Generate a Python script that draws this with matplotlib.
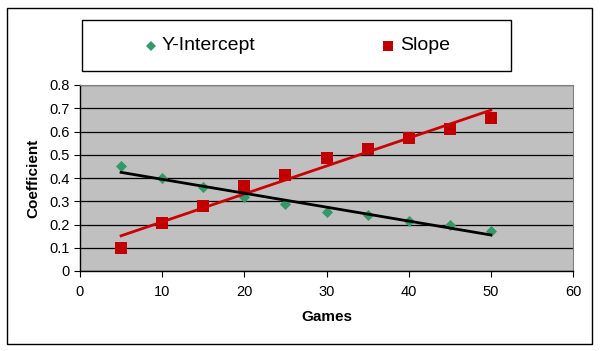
import numpy as np
import matplotlib
matplotlib.use("Agg")
import matplotlib.pyplot as plt
from matplotlib.patches import Rectangle
from matplotlib.lines import Line2D

plt.rcParams['font.family'] = ['Liberation Sans', 'DejaVu Sans']

games = [5, 10, 15, 20, 25, 30, 35, 40, 45, 50]
y_intercept = [0.451, 0.398, 0.361, 0.319, 0.290, 0.254, 0.243, 0.213, 0.196, 0.171]
slope = [0.097, 0.207, 0.280, 0.364, 0.415, 0.486, 0.523, 0.572, 0.612, 0.660]
x_ticks = [0, 10, 20, 30, 40, 50, 60]
y_ticks = [0, 0.1, 0.2, 0.3, 0.4, 0.5, 0.6, 0.7, 0.8]
y_tick_labels = ['0', '0.1', '0.2', '0.3', '0.4', '0.5', '0.6', '0.7', '0.8']

W, H = 600, 351
fig = plt.figure(figsize=(6.0, 3.51), dpi=100)
fig.patch.set_facecolor('white')

# outer border
fig.add_artist(Rectangle((7 / W, 1 - 344 / H), (592 - 7) / W, (344 - 8) / H,
                         transform=fig.transFigure, fill=False,
                         edgecolor='black', linewidth=1.0))

left, right, top, bottom = 80, 573, 85, 271
ax = fig.add_axes([left / W, 1 - bottom / H, (right - left) / W, (bottom - top) / H])
ax.set_facecolor('#C0C0C0')
ax.set_xlim(0, 60)
ax.set_ylim(0, 0.8)
ax.set_xticks(x_ticks)
ax.set_yticks(y_ticks)
ax.set_yticklabels(y_tick_labels)
ax.grid(axis='y', color='black', linewidth=0.9)
ax.set_axisbelow(True)
for s in ['top', 'right']:
    ax.spines[s].set_color('#808080')
    ax.spines[s].set_linewidth(0.8)
for s in ['left', 'bottom']:
    ax.spines[s].set_color('black')
    ax.spines[s].set_linewidth(1.0)
ax.tick_params(axis='both', direction='out', length=4, width=0.8, labelsize=10.5, colors='black')
ax.tick_params(axis='x', pad=6)

green = '#339966'
red = '#C00000'

x = np.array(games, dtype=float)
ci = np.polyfit(x, y_intercept, 1)
cs = np.polyfit(x, slope, 1)
xf = np.array([games[0], games[-1]], dtype=float)

ax.scatter(games, y_intercept, marker='D', s=32, color=green, zorder=3, linewidths=0)
ax.scatter(games, slope, marker='s', s=64, color=red, zorder=3, linewidths=0)
ax.plot(xf, np.polyval(cs, xf), color='#CC0000', linewidth=2.0, zorder=4)
ax.plot(xf, np.polyval(ci, xf), color='black', linewidth=2.0, zorder=4)

ax.set_xlabel('Games', fontsize=11, fontweight='bold', labelpad=8)
ax.set_ylabel('Coefficient', fontsize=11, fontweight='bold', labelpad=6)

# legend box
lx0, lx1, ly0, ly1 = 82, 511, 20, 71
fig.add_artist(Rectangle((lx0 / W, 1 - ly1 / H), (lx1 - lx0) / W, (ly1 - ly0) / H,
                         transform=fig.transFigure, fill=False,
                         edgecolor='black', linewidth=1.0))
ly = 1 - 46 / H
fig.add_artist(Line2D([151 / W], [ly], marker='D', markersize=5.5, color=green,
                      markeredgewidth=0, transform=fig.transFigure))
fig.text(162 / W, ly, 'Y-Intercept', fontsize=14, va='center', ha='left')
fig.add_artist(Line2D([388 / W], [ly], marker='s', markersize=7, color=red,
                      markeredgewidth=0, transform=fig.transFigure))
fig.text(400 / W, ly, 'Slope', fontsize=14, va='center', ha='left')

fig.savefig('out.png', dpi=100)
